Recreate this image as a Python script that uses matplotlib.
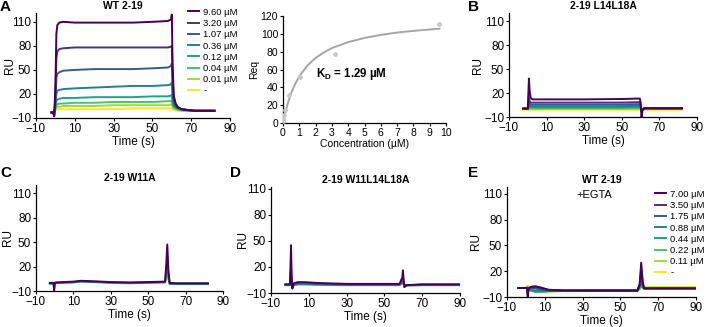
import matplotlib
matplotlib.use('Agg')
import matplotlib.pyplot as plt

plt.rcParams['font.family'] = ['Liberation Sans', 'DejaVu Sans']

# viridis-like concentration colours, high -> low
COLORS = ['#440154', '#46327e', '#365c8d', '#277f8e',
          '#1fa187', '#4ac16d', '#a0da39', '#fde725']

# ---- panel A: WT 2-19 sensorgrams
A_LABELS = ['9.60 µM', '3.20 µM', '1.07 µM', '0.36 µM',
            '0.12 µM', '0.04 µM', '0.01 µM', '-']
A_T = [-2, -1.2, -0.6, 0, 0.5, 1, 2, 4, 10, 20, 30, 40, 50, 58,
       59.6, 60, 60.4, 61, 62, 63, 65, 68, 72, 82]
A_RU = [
    [-3, -3, -8, 30, 95, 106, 109, 110, 109, 109, 109, 109, 110, 111, 113, 119, 60, 18, 8, 4, 1, 0, -1, -1],
    [-3, -3, -7, 20, 65, 73, 76, 77, 78, 78, 78, 78, 78, 78, 79, 80, 40, 14, 7, 3, 1, 0, -1, -1],
    [-3, -3, -6, 12, 40, 45, 47, 49, 50, 51, 51, 51, 52, 53, 55, 58, 30, 10, 5, 3, 1, 0, -1, -1],
    [-3, -3, -5, 6, 20, 24, 25, 26, 27, 28, 29, 30, 30, 31, 32, 34, 16, 7, 4, 2, 1, 0, -1, -1],
    [-3, -3, -4, 4, 11, 13, 14, 15, 15, 16, 16, 16, 17, 17, 18, 19, 10, 5, 3, 2, 0, 0, -1, -1],
    [-3, -3, -3, 2, 6, 7, 8, 8, 9, 9, 10, 10, 10, 11, 11, 12, 6, 3, 2, 1, 0, -1, -1, -1],
    [-3, -3, -3, 1, 3, 4, 4, 5, 5, 5, 6, 6, 6, 6, 7, 7, 4, 2, 1, 0, -1, -1, -1, -1],
    [-3, -3, -3, 0, 0, 1, 1, 1, 1, 1, 1, 2, 2, 2, 2, 2, 1, 0, 0, -1, -1, -1, -1, -1],
]

# ---- steady-state fit
REQ_FIT_C = [0, 0.1, 0.25, 0.5, 0.75, 1, 1.5, 2, 2.5, 3, 4, 5, 6, 7, 8, 9.6]
REQ_FIT_V = [0, 8.6, 19.5, 33.5, 44, 52.4, 64.5, 73, 79, 84, 90.7, 95.4, 98.8, 101.4, 103.3, 105.8]
REQ_PTS_C = [0, 0.01, 0.04, 0.12, 0.36, 1.07, 3.2, 9.6]
REQ_PTS_V = [2, 5, 9, 15, 31, 52, 77, 111]

# ---- panel B: 2-19 L14L18A
B_T = [-2.5, 0, 0.3, 0.6, 1, 1.5, 2.5, 10, 30, 50, 58, 59.6, 60, 60.5, 61, 62, 70, 82]
B_RU = [
    [1, 1, 20, 38, 22, 14, 12, 12, 12, 12.5, 13, 13, 8, -10, -2, 1, 1, 1],
    [0, 0, 6, 14, 10, 8, 8, 8, 8, 8, 8.5, 8.5, 5, -4, 0, 1, 1, 1],
    [0, 0, 4, 9, 6, 5.5, 5.5, 5.5, 5.5, 5.5, 6, 6, 4, -2, 0, 1, 1, 1],
    [0, 0, 3, 7, 4, 3.5, 3.5, 3.5, 3.5, 3.5, 4, 4, 3, -1, 0, 0.5, 0.5, 0.5],
    [0, 0, 2, 5, 3, 2, 2, 2, 2, 2, 2.5, 2.5, 2, 0, 0, 0.5, 0.5, 0.5],
    [0, 0, 1, 3, 1.5, 1, 1, 1, 1, 1, 1, 1, 1, 0, 0, 0, 0, 0],
    [0, 0, 0.5, 2, 0.5, 0, 0, 0, 0, 0, 0, 0, 0, 0, 0, 0, 0, 0],
    [-1, -1, -1, 0, -1, -1, -1, -1, -1, -1, -1, -1, -1, -1, -1, -1, -1, -1],
]

# ---- panel C: 2-19 W11A (visible traces only)
C_T = [-2.6, -0.6, -0.3, 0, 0.5, 5, 10, 14, 20, 30, 40, 50, 59, 59.6, 60.2, 60.8, 61.5, 65, 82]
C_IDX = [7, 5, 3, 0]
C_RU = [
    [-0.5, -0.5, -3, -0.5, 0, 0.5, 1, 1.5, 1.5, 0.5, 0, 0.5, 1, 4, 8, 3, -1, -1, -1],
    [-0.5, -0.5, -5, -0.5, 0, 0.5, 1, 2, 1.5, 0.5, 0, 0.5, 1, 8, 16, 5, -1, -1, -1],
    [-1, -1, -7, -1, -0.5, 0, 0.5, 1.5, 1, 0, -0.5, 0, 0.5, 12, 28, 8, -1.5, -1.5, -1.5],
    [0, 0, -10, 0, 0.5, 1, 1.5, 2.5, 2, 1, 0.5, 1, 1.5, 20, 47, 15, 0, -0.5, -0.5],
]

# ---- panel D: 2-19 W11L14L18A
D_T = [-2.4, 0, 0.3, 0.6, 0.9, 1.3, 2, 4, 8, 15, 30, 45, 58, 59.5, 59.8, 60.2, 60.6, 61.5, 70, 90]
D_IDX = [6, 3, 2, 0]
D_RU = [
    [-0.5, -0.5, 2, 5, 1, -2, -1, 0, 0, -0.5, -0.5, -0.5, -0.5, 1, 3, 0, -2, -1, -0.5, -0.5],
    [-1, -1, 5, 10, 2, -3, -1, 0, 0, -0.5, -1, -1, -1, 2, 5, 0, -3, -1.5, -1, -1],
    [-0.5, -0.5, 10, 20, 5, -4, 0, 1.5, 1.5, 0.5, 0, 0, 0, 4, 9, 2, -3, -1, -0.5, -0.5],
    [0, 0, 20, 45, 10, -5, 1, 2.5, 2.5, 1.5, 0.5, 0.5, 0.5, 8, 16, 4, -3, -1, 0, 0],
]

# ---- panel E: WT 2-19 + EGTA
E_LABELS = ['7.00 µM', '3.50 µM', '1.75 µM', '0.88 µM',
            '0.44 µM', '0.22 µM', '0.11 µM', '-']
E_T = [-4, 0, 0.6, 1, 1.4, 2, 3, 5, 8, 12, 20, 40, 59, 60.2, 61, 61.8, 62.5, 65, 70, 90]
E_RU = [
    [0.5, 0.5, 0.5, -10, 0, 1, 2, 2.5, 1, -1.5, -2.5, -2.5, -2.5, 5, 30, 8, 0, 0, 0, 0],
    [0.5, 0.5, 0.5, -8, 0, 1, 1.5, 1.5, 0, -2, -2.5, -2.5, -2.5, 4, 22, 6, 0, 0, 0, 0],
    [0.5, 0.5, 0.5, -6, -0.5, 0, 0.5, 0, -1.5, -2.5, -2.5, -2.5, -2.5, 3, 16, 4, 0, 0, 0, 0],
    [0.5, 0.5, 0.5, -4, -1, -1, -1.5, -2.5, -3, -3, -2.5, -2.5, -2.5, 2, 10, 3, 0, 0, 0, 0],
    [0.5, 0.5, 0.5, -2, -1, -1.5, -2.5, -3.5, -3.5, -3, -2.5, -2.5, -2.5, 1, 6, 2, 0, 0.5, 0.5, 0.5],
    [0.5, 0.5, 1, 0, -1, -2, -3, -4, -4, -3.5, -3, -2.5, -2.5, 0, 3, 1, 0.5, 0.5, 0.5, 0.5],
    [0.5, 0.5, 2, 3, 1, -1, -3, -4.5, -4.5, -3.5, -3, -2.5, -2.5, 0, 2, 1, 0.5, 1, 1, 1],
    [0.5, 0.5, 0.5, 0.5, 0, -1, -2, -3.5, -4, -3.5, -3, -2.5, -2.5, -1, 0, 1, 1.5, 1.5, 1.5, 1.5],
]

W, H = 708, 327
fig = plt.figure(figsize=(W / 100, H / 100), dpi=100)


def box(left, right, bottom, top):
    # pixel box -> figure fraction
    return [left / W, 1 - bottom / H, (right - left) / W, (bottom - top) / H]


def style(ax, fs=8.5):
    for s in ['top', 'right']:
        ax.spines[s].set_visible(False)
    for s in ['left', 'bottom']:
        ax.spines[s].set_linewidth(0.9)
    ax.tick_params(labelsize=fs, length=2.5, width=0.8, pad=1)


def sensor(ax, ytop, ru_x, top, bottom):
    style(ax)
    ax.set_xlim(-10, 90)
    ax.set_ylim(-10, ytop)
    ax.set_xticks([-10, 10, 30, 50, 70, 90])
    ax.set_yticks([-10, 20, 50, 80, 110])
    ax.set_xlabel('Time (s)', fontsize=8.5, labelpad=1)
    fig.text(ru_x / W, 1 - (top + bottom) / 2 / H, 'RU', fontsize=8.5,
             rotation=90, ha='center', va='center')


def title(ax, txt, x=0.5):
    ax.set_title(txt, fontsize=7.5, fontweight='bold', pad=3, x=x)


def legend(ax, x, y):
    h, l = ax.get_legend_handles_labels()
    ax.legend(h[::-1], l[::-1], loc='upper left', frameon=False, fontsize=6.8,
              bbox_to_anchor=(x / W, 1 - y / H), bbox_transform=fig.transFigure,
              borderpad=0, handlelength=1.2, handletextpad=0.45, labelspacing=0.24)


# A
axA = fig.add_axes(box(36, 230, 118, 13))
for i in range(len(A_RU) - 1, -1, -1):
    axA.plot(A_T, A_RU[i], color=COLORS[i], lw=1.4, label=A_LABELS[i])
sensor(axA, 121, 10, 13, 118)
title(axA, 'WT 2-19', x=0.45)
legend(axA, 183, 3)

# fit
axR = fig.add_axes(box(283, 446, 123, 16))
axR.plot(REQ_FIT_C, REQ_FIT_V, color='#a6a6a6', lw=1.4)
axR.scatter(REQ_PTS_C, REQ_PTS_V, s=6, color='#c8c8c8', zorder=3)
style(axR, 7.5)
axR.set_xlim(0, 10)
axR.set_ylim(0, 120)
axR.set_xticks(range(0, 11))
axR.set_yticks(range(0, 121, 20))
axR.set_xlabel('Concentration (µM)', fontsize=7.5, labelpad=1)
axR.set_ylabel('Req', fontsize=7.5, labelpad=1)
axR.text(2.0, 55, r'K$_\mathregular{D}$ = 1.29 µM', fontsize=8.3,
         fontweight='bold', va='center')

# B
axB = fig.add_axes(box(509, 697, 117, 13))
for i in range(len(B_RU) - 1, -1, -1):
    axB.plot(B_T, B_RU[i], color=COLORS[i], lw=1.4)
sensor(axB, 120, 478, 13, 117)
title(axB, '2-19 L14L18A')

# C
axC = fig.add_axes(box(36, 223, 291, 185))
for i, k in enumerate(C_IDX):
    axC.plot(C_T, C_RU[i], color=COLORS[k], lw=1.4)
sensor(axC, 120, 8, 185, 291)
title(axC, '2-19 W11A')

# D
axD = fig.add_axes(box(271, 460, 293, 187))
for i, k in enumerate(D_IDX):
    axD.plot(D_T, D_RU[i], color=COLORS[k], lw=1.4)
sensor(axD, 112, 243, 187, 293)
title(axD, '2-19 W11L14L18A')

# E
axE = fig.add_axes(box(507, 696, 297, 187))
for i in range(len(E_RU) - 1, -1, -1):
    axE.plot(E_T, E_RU[i], color=COLORS[i], lw=1.4, label=E_LABELS[i])
sensor(axE, 118, 476, 187, 297)
title(axE, 'WT 2-19')
axE.text(0.46, 0.93, '+EGTA', transform=axE.transAxes, fontsize=8,
         ha='center', va='center')
legend(axE, 650, 185)

# panel letters
for x, y, s in [(0, 0, 'A'), (468, 0, 'B'), (0, 166, 'C'), (230, 166, 'D'), (468, 166, 'E')]:
    fig.text(x / W, 1 - y / H, s, fontsize=11, fontweight='bold', va='top', ha='left')

fig.savefig('out.png', dpi=100)
